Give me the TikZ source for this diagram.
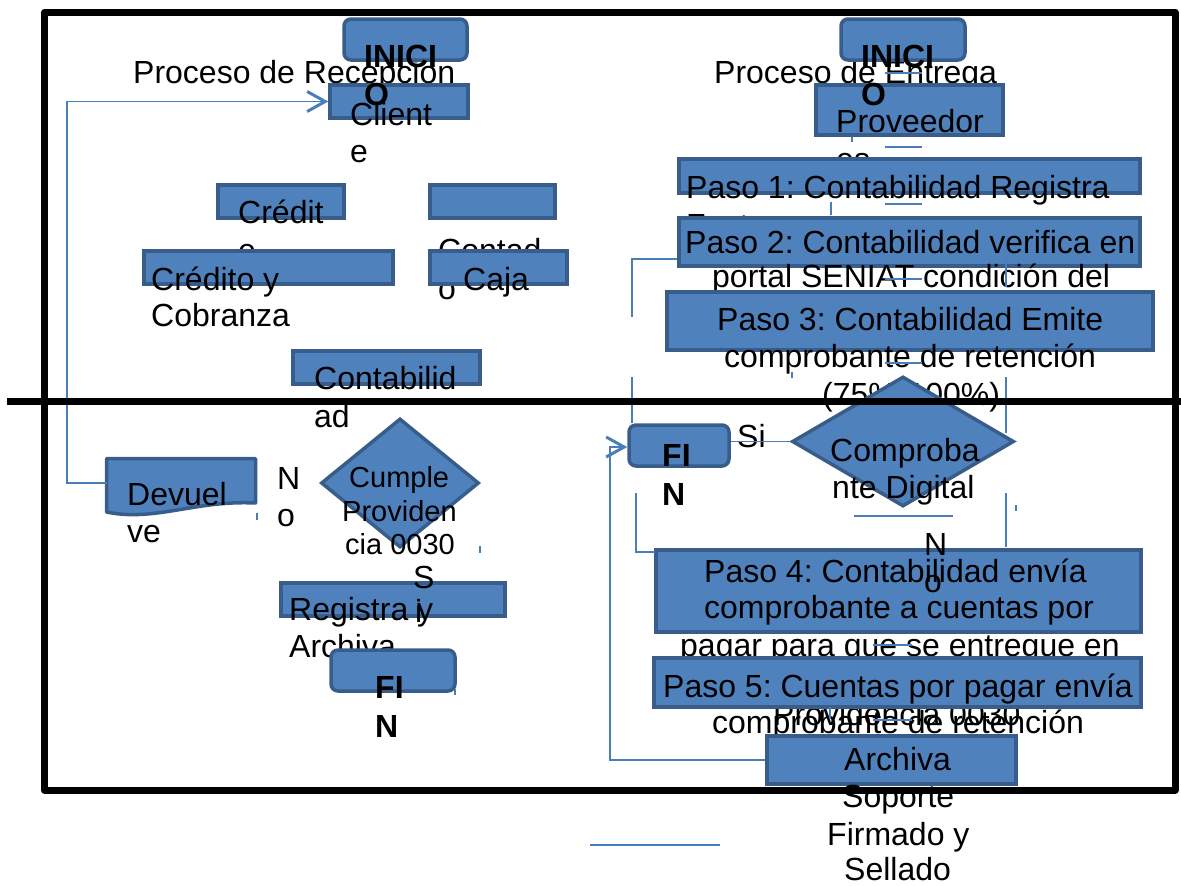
\documentclass[tikz,border=0pt]{standalone}
\usepackage{fontspec}
\setmainfont{Liberation Sans}
\frenchspacing
\usetikzlibrary{shapes.geometric,arrows.meta,calc}
\definecolor{bfill}{RGB}{79,129,189}
\definecolor{bline}{RGB}{56,93,138}
\definecolor{cline}{RGB}{74,126,187}
\tikzset{
  box/.style={draw=bline, fill=bfill, line width=3.5pt, rectangle, inner sep=0pt},
  rbox/.style={box, rounded corners=7pt},
  dbox/.style={draw=bline, fill=bfill, line width=3.5pt, diamond, inner sep=0pt},
  conn/.style={draw=cline, line width=1.8pt},
  tip/.style={-{Straight Barb[length=18pt,width=20pt,line width=3pt]}},
  tx/.style={anchor=base west, inner sep=0pt, font=\fontsize{32}{38}\selectfont},
  txb/.style={anchor=base west, inner sep=0pt, font=\fontsize{32}{38}\selectfont\bfseries},
  txm/.style={anchor=base west, inner sep=0pt, font=\fontsize{29}{35}\selectfont},
  frame/.style={draw=black, line width=7pt, line join=round}
}
\begin{document}
\begin{tikzpicture}[x=1pt,y=-1pt]
\useasboundingbox (0,0) rectangle (1181,886);

% ---------- left process ----------
\node[tx] (tRec) at (133,83) {Proceso de Recepcion};
\node[box, minimum width=138pt, minimum height=33pt] (cli) at (399,101.5) {};
\node[tx] (tCli1) at (350,125) {Client};
\node[tx] (tCli2) at (350,162) {e};
\node[rbox, minimum width=123pt, minimum height=41pt] (iniL) at (405.5,39.5) {};
\node[txb] (tIniL1) at (364,67) {INICI};
\node[txb] (tIniL2) at (364,105) {O};

\node[box, minimum width=126pt, minimum height=33pt] (cred) at (281,201.5) {};
\node[tx] (tCred1) at (238,223) {Crédit};
\node[tx] (tCred2) at (238,261) {e};
\node[box, minimum width=125pt, minimum height=33pt] (cont) at (492.5,201.5) {};
\node[tx] (tCont1) at (438,261) {Contad};
\node[tx] (tCont2) at (438,299) {o};
\node[box, minimum width=249pt, minimum height=33pt] (cyc) at (268.5,267.5) {};
\node[tx] (tCyc1) at (151,290) {Crédito y};
\node[tx] (tCyc2) at (151,326) {Cobranza};
\node[box, minimum width=137pt, minimum height=33pt] (caja) at (498.5,267.5) {};
\node[tx] (tCaja) at (463,290) {Caja};
\node[box, minimum width=187pt, minimum height=33pt] (contab) at (386.5,367.5) {};
\node[tx] (tCtb1) at (314,389) {Contabilid};
\node[tx] (tCtb2) at (314,427) {ad};

\draw[draw=bline, fill=bfill, line width=3.5pt, line join=round]
  (106.5,458.5) -- (255.5,458.5) -- (255.5,503)
  .. controls (195,500) and (155,522) .. (106.5,512) -- cycle;
\coordinate (devW) at (106.5,483);
\node[tx] (tDev1) at (127,505) {Devuel};
\node[tx] (tDev2) at (127,542) {ve};
\node[tx] (tNoL1) at (277,489) {N};
\node[tx] (tNoL2) at (277,526) {o};

\node[dbox, minimum width=158pt, minimum height=129pt] (dia1) at (400,483) {};
\node[txm] (tCum1) at (349,487) {Cumple};
\node[txm] (tCum2) at (342,521) {Providen};
\node[txm] (tCum3) at (345,554) {cia 0030};

\node[box, minimum width=224pt, minimum height=33pt] (reg) at (393,599.5) {};
\node[tx] (tReg1) at (289,620) {Registra y};
\node[tx] (tReg2) at (289,657) {Archiva};
\node[tx] (tSiL1) at (413,588) {S};
\node[tx] (tSiL2) at (415,622) {i};
\node[rbox, minimum width=124pt, minimum height=41pt] (finL) at (393,670.5) {};
\node[txb] (tFinL1) at (375,698) {FI};
\node[txb] (tFinL2) at (375,737) {N};

% ---------- right process ----------
\node[tx] (tEnt) at (714,83) {Proceso de Entrega};
\node[box, minimum width=187pt, minimum height=50pt] (prov) at (909.5,110) {};
\node[tx] (tProv1) at (836,132) {Proveedor};
\node[tx] (tProv2) at (836,170) {es};
\node[rbox, minimum width=124pt, minimum height=41pt] (iniR) at (903,39.5) {};
\node[txb] (tIniR1) at (861,67) {INICI};
\node[txb] (tIniR2) at (861,105) {O};

\node[box, minimum width=461pt, minimum height=34pt] (p1) at (909.5,176) {};
\node[tx] (tP1a) at (686,198) {Paso 1: Contabilidad Registra};
\node[tx] (tP1b) at (686,236) {Factura};
\node[box, minimum width=461pt, minimum height=48pt] (p2) at (909.5,242) {};
\node[tx] (tP2a) at (685,253) {Paso 2: Contabilidad verifica en};
\node[tx] (tP2b) at (712,287) {portal SENIAT condición del};
\node[box, minimum width=486pt, minimum height=58pt] (p3) at (910,321) {};
\node[tx] (tP3a) at (717,330) {Paso 3: Contabilidad Emite};
\node[tx] (tP3b) at (724,367) {comprobante de retención};
\node[tx] (tP3c) at (822,405) {(75\%-100\%)};

\node[dbox, minimum width=222pt, minimum height=130pt] (dia2) at (903,441.5) {};
\node[tx] (tDig1) at (830,461) {Comproba};
\node[tx] (tDig2) at (832,498) {nte Digital};
\node[rbox, minimum width=100pt, minimum height=41pt] (finR) at (679,445.5) {};
\node[txb] (tFinR1) at (662,466) {FI};
\node[txb] (tFinR2) at (662,505) {N};
\node[tx] (tSiR) at (737,447) {Si};

\node[box, minimum width=485pt, minimum height=82pt] (p4) at (898.5,591) {};
\node[tx] (tP4a) at (704,582) {Paso 4: Contabilidad envía};
\node[tx] (tP4b) at (704,618) {comprobante a cuentas por};
\node[tx] (tP4c) at (680,656) {pagar para que se entregue en};
\node[tx] (tNoR1) at (924,555) {N};
\node[tx] (tNoR2) at (924,592) {o};
\node[tx] (tProvi) at (773,725) {Providencia 0030};
\node[box, minimum width=487pt, minimum height=49pt] (p5) at (897.5,682.5) {};
\node[tx] (tP5a) at (663,697) {Paso 5: Cuentas por pagar envía};
\node[tx] (tP5b) at (712,733) {comprobante de retención};
\node[box, minimum width=249pt, minimum height=48pt] (arch) at (891.5,760) {};
\node[tx] (tArc1) at (844,770) {Archiva};
\node[tx] (tArc2) at (842,807) {Soporte};
\node[tx] (tArc3) at (827,845) {Firmado y};
\node[tx] (tArc4) at (844,880) {Sellado};

% ---------- connectors ----------
\draw[conn, tip] (devW) -- (67,483) -- (67,101.5) -- (cli.west);
\coordinate (r2) at (610,447);
\draw[conn, tip] (arch.west) -| (r2) -- (r2 -| finR.west);
\draw[conn] (finR.east |- dia2.west) -- (dia2.west);

% fragments of connectors
\draw[conn] (677,259) -- (632,259) -- (632,317);
\draw[conn] (632,377) -- (632,423);
\draw[conn] (636,493) -- (636,552) -- (655,552);
\draw[conn] (1006,258) -- (1006,287);
\draw[conn] (1006,377) -- (1006,433);
\draw[conn] (1006,493) -- (1006,547);
\foreach \yy in {73,147,204,279,363} \draw[conn] (885,\yy) -- (922,\yy);
\foreach \yy in {645,720} \draw[conn] (873,\yy) -- (912,\yy);
\draw[conn] (854,516) -- (953,516);
\draw[conn] (852,137) -- (852,142);
\draw[conn] (831,202) -- (831,215);
\draw[conn] (792,372) -- (792,378);
\draw[conn] (1016,505) -- (1016,511);
\draw[conn] (830,707) -- (830,719);
\draw[conn] (257,513) -- (257,520);
\draw[conn] (480,546) -- (480,553);
\draw[conn] (455,689) -- (455,695);
\draw[conn] (590,845) -- (720,845);

% ---------- frame ----------
\draw[frame] (44.5,12) rectangle (1175,790);
\draw[frame] (7,401) -- (1181,401);
\end{tikzpicture}
\end{document}
